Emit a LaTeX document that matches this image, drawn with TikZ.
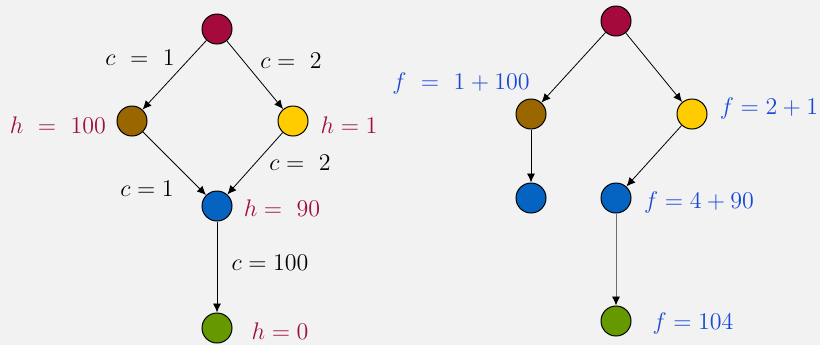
\documentclass[tikz,border=0pt]{standalone}
\usepackage{amsmath}
\usepackage{xcolor}
\usepackage{tikz}
\usetikzlibrary{arrows.meta,positioning}
\definecolor{bgGray}{RGB}{242,242,242}
\definecolor{stRed}{RGB}{165,10,60}
\definecolor{stBrown}{RGB}{153,102,0}
\definecolor{stYellow}{RGB}{255,204,0}
\definecolor{stBlue}{RGB}{5,99,193}
\definecolor{stGreen}{RGB}{102,153,0}
\definecolor{hRed}{RGB}{158,14,68}
\definecolor{fBlue}{RGB}{24,72,212}
\definecolor{edgeGray}{RGB}{110,110,110}

\tikzset{
    state/.style={circle, draw=black, line width=0.5pt, inner sep=0pt, minimum size=15pt},
    link/.style={-{Latex[length=4.5pt,width=4pt,color=black]}, line width=0.4pt},
    costlbl/.style={text=black, font=\large},
    hlbl/.style={text=hRed, font=\large},
    flbl/.style={text=fBlue, font=\large},
}

\begin{document}
\begin{tikzpicture}[x=0.5pt,y=-0.5pt]
\fill[bgGray] (0,0) rectangle (820,345);
\useasboundingbox (0,0) rectangle (820,345);

% =========================
% 1. graph with costs and heuristic
% =========================
\node[state, fill=stRed]    (gS) at (217,29)  {};
\node[state, fill=stBrown]  (gA) at (132,121) {};
\node[state, fill=stYellow] (gB) at (293,121) {};
\node[state, fill=stBlue]   (gC) at (217,206) {};
\node[state, fill=stGreen]  (gG) at (217,328) {};

\draw[link] (gS) -- (gA);
\draw[link] (gS) -- (gB);
\draw[link] (gA) -- (gC);
\draw[link] (gB) -- (gC);
\draw[link] (gC) -- (gG);

% edge costs
\node[costlbl] (cSA) at (140,58)  {$c\ =\ 1$};
\node[costlbl] (cSB) at (291,61)  {$c =\ 2$};
\node[costlbl] (cBC) at (300,163) {$c =\ 2$};
\node[costlbl] (cAC) at (147,189) {$c = 1$};
\node[costlbl] (cCG) at (270,263) {$c = 100$};

% heuristic values
\node[hlbl] (hA) at (58,125)  {$h\ =\ 100$};
\node[hlbl] (hB) at (349,125) {$h = 1$};
\node[hlbl] (hC) at (282,208) {$h =\ 90$};
\node[hlbl] (hG) at (280,331) {$h = 0$};

% =========================
% 2. search tree with f values
% =========================
\node[state, fill=stRed]    (tS)  at (616,21)  {};
\node[state, fill=stBrown]  (tA)  at (531,114) {};
\node[state, fill=stYellow] (tB)  at (692,114) {};
\node[state, fill=stBlue]   (tAC) at (531,198) {};
\node[state, fill=stBlue]   (tBC) at (616,198) {};
\node[state, fill=stGreen]  (tG)  at (616,321) {};

\draw[link] (tS) -- (tA);
\draw[link] (tS) -- (tB);
\draw[link] (tA) -- (tAC);
\draw[link] (tB) -- (tBC);
\draw[link, edgeGray] (tBC) -- (tG);

\node[flbl] (fA)  at (461,83)  {$f\ =\ 1 + 100$};
\node[flbl] (fB)  at (769,108) {$f = 2 + 1$};
\node[flbl] (fBC) at (699,202) {$f = 4 + 90$};
\node[flbl] (fG)  at (693,323) {$f = 104$};

\end{tikzpicture}
\end{document}
